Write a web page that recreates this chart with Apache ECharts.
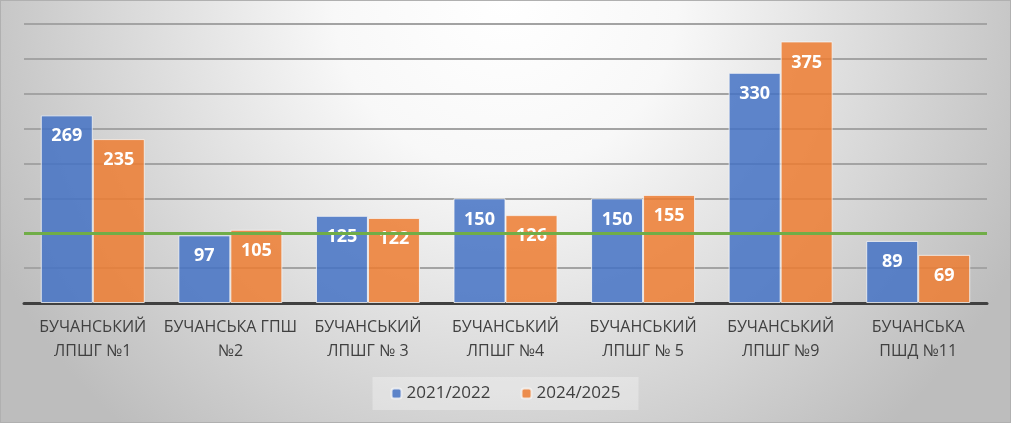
<!DOCTYPE html>
<html>
<head>
<meta charset="utf-8">
<script src="https://cdn.jsdelivr.net/npm/echarts@6/dist/echarts.min.js"></script>
<style>
  html, body { margin: 0; padding: 0; }
  #chart { width: 1011px; height: 423px; }
</style>
</head>
<body>
<div id="chart"></div>
<script>
// categories (two-line labels as in the picture)
var schools = [
  'БУЧАНСЬКИЙ\nЛПШГ №1',
  'БУЧАНСЬКА ГПШ\n№2',
  'БУЧАНСЬКИЙ\nЛПШГ № 3',
  'БУЧАНСЬКИЙ\nЛПШГ №4',
  'БУЧАНСЬКИЙ\nЛПШГ № 5',
  'БУЧАНСЬКИЙ\nЛПШГ №9',
  'БУЧАНСЬКА\nПШД №11'
];
var seriesNames = ['2021/2022', '2024/2025'];
var values2122 = [269, 97, 125, 150, 150, 330, 89];
var values2425 = [235, 105, 122, 126, 155, 375, 69];
var targetLevel = 100; // зелена лінія

var chart = echarts.init(document.getElementById('chart'));

var labelStyle = {
  show: true,
  position: 'insideTop',
  distance: 12,
  color: '#fff',
  fontWeight: 'bold',
  fontSize: 18,
  fontFamily: 'Open Sans'
};

var option = {
  animation: false,
  textStyle: { fontFamily: 'Open Sans' },
  graphic: [{
    type: 'rect',
    z: -10,
    silent: true,
    shape: { x: 0, y: 0, width: 1011, height: 423 },
    style: {
      fill: new echarts.graphic.RadialGradient(0.5, 0, 1.35, [
        { offset: 0, color: '#ffffff' },
        { offset: 0.3, color: '#f8f8f8' },
        { offset: 1, color: '#bdbdbd' }
      ]),
      stroke: '#b0b0b0',
      lineWidth: 2
    }
  }],
  legend: {
    data: seriesNames,
    bottom: 13,
    left: 'center',
    itemWidth: 10,
    itemHeight: 10,
    itemGap: 30,
    padding: [8, 18, 8, 18],
    backgroundColor: 'rgba(255,255,255,0.3)',
    textStyle: { fontSize: 17, color: '#404040', fontFamily: 'Open Sans' }
  },
  grid: {
    left: 24,
    right: 24,
    top: 24,
    bottom: 120
  },
  xAxis: {
    type: 'category',
    data: schools,
    axisTick: { show: false },
    axisLine: { lineStyle: { color: '#404040', width: 3 } },
    axisLabel: {
      interval: 0,
      fontSize: 16,
      lineHeight: 24,
      margin: 12,
      color: '#404040',
      fontFamily: 'Open Sans'
    }
  },
  yAxis: {
    type: 'value',
    min: 0,
    max: 400,
    interval: 50,
    axisLabel: { show: false },
    axisLine: { show: false },
    axisTick: { show: false },
    splitLine: { lineStyle: { color: '#a3a3a3', width: 2 } }
  },
  series: [
    {
      name: seriesNames[0],
      type: 'bar',
      data: values2122,
      barWidth: 52,
      barGap: '0%',
      itemStyle: { color: 'rgba(68,114,196,0.85)', borderColor: 'rgba(245,245,245,0.8)', borderWidth: 1 },
      label: labelStyle
    },
    {
      name: seriesNames[1],
      type: 'bar',
      data: values2425,
      barWidth: 52,
      barGap: '0%',
      itemStyle: { color: 'rgba(237,125,49,0.85)', borderColor: 'rgba(245,245,245,0.8)', borderWidth: 1 },
      label: labelStyle
    },
    {
      name: 'рівень',
      type: 'line',
      data: [],
      z: 10,
      markLine: {
        silent: true,
        symbol: 'none',
        label: { show: false },
        lineStyle: { color: '#70AD47', width: 3, type: 'solid' },
        data: [{ yAxis: targetLevel }]
      }
    }
  ]
};

chart.setOption(option);
</script>
</body>
</html>
